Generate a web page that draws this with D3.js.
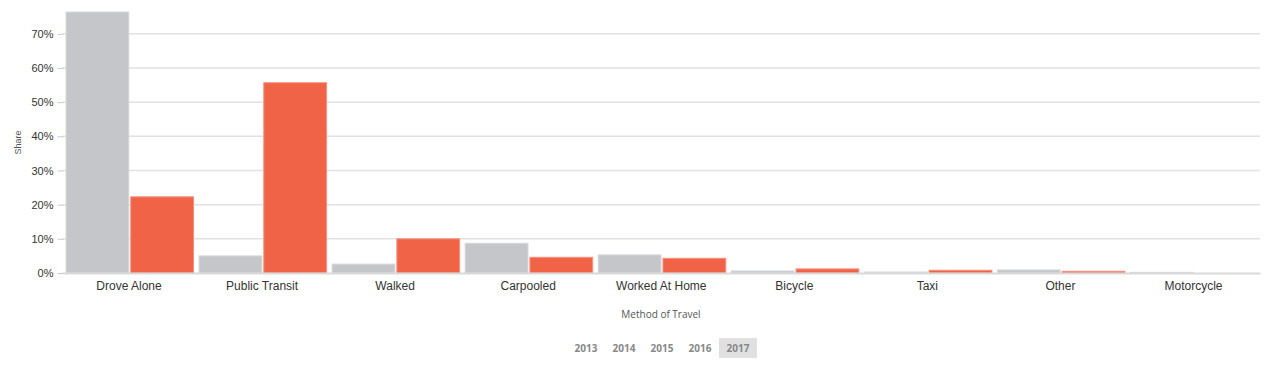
<!DOCTYPE html>
<html>
<head>
<meta charset="utf-8">
<script src="https://cdn.jsdelivr.net/npm/d3@7"></script>
<style>
body { margin: 0; background: #fff; }
.tick text { font-family: "Liberation Sans", Arial, sans-serif; font-size: 11px; fill: #333; }
.x-axis .tick text { font-size: 12px; }
</style>
</head>
<body>
<script>
// data (share of workers, 2017)
var methods = ["Drove Alone", "Public Transit", "Walked", "Carpooled", "Worked At Home", "Bicycle", "Taxi", "Other", "Motorcycle"];
var greyShare = [0.764, 0.050, 0.026, 0.087, 0.053, 0.006, 0.003, 0.009, 0.002];
var orangeShare = [0.223, 0.557, 0.100, 0.046, 0.043, 0.012, 0.008, 0.005, 0];
var years = ["2013", "2014", "2015", "2016", "2017"];
var activeYear = "2017";
var yTicks = [0, 0.1, 0.2, 0.3, 0.4, 0.5, 0.6, 0.7];

var width = 1266, height = 366;
var margin = {top: 12, right: 6, bottom: 93, left: 62.5};

var svg = d3.select("body").append("svg")
  .attr("width", width)
  .attr("height", height);

var x = d3.scaleBand()
  .domain(methods)
  .range([margin.left, width - margin.right])
  .paddingInner(0)
  .paddingOuter(0);

var sub = d3.scaleBand()
  .domain(["grey", "orange"])
  .range([3.5, x.bandwidth() - 2])
  .paddingInner(0.03);

var y = d3.scaleLinear()
  .domain([0, d3.max(greyShare.concat(orangeShare))])
  .range([height - margin.bottom, margin.top]);

// gridlines
svg.append("g")
  .selectAll("line")
  .data(yTicks.slice(1))
  .enter().append("line")
  .attr("x1", margin.left)
  .attr("x2", width - margin.right)
  .attr("y1", function(d) { return y(d); })
  .attr("y2", function(d) { return y(d); })
  .attr("stroke", "#e2e2e2")
  .attr("stroke-width", 1.5);

var yAxis = d3.axisLeft(y)
  .tickValues(yTicks)
  .tickFormat(d3.format(".0%"))
  .tickSize(6)
  .tickPadding(4);

var yg = svg.append("g")
  .attr("transform", "translate(" + (margin.left + 1) + ",0)")
  .call(yAxis);
yg.select(".domain").remove();
yg.selectAll(".tick line").attr("stroke", "#ccc");

var rows = methods.map(function(m, i) {
  return {method: m, grey: greyShare[i], orange: orangeShare[i]};
});

var groups = svg.selectAll(".grp")
  .data(rows)
  .enter().append("g")
  .attr("class", "grp")
  .attr("transform", function(d) { return "translate(" + x(d.method) + ",0)"; });

groups.append("rect")
  .attr("x", sub("grey"))
  .attr("width", sub.bandwidth())
  .attr("y", function(d) { return y(d.grey); })
  .attr("height", function(d) { return y(0) - y(d.grey); })
  .attr("fill", "#c5c6ca")
  .attr("stroke", "#d6d7da")
  .attr("stroke-width", 1);

groups.filter(function(d) { return d.orange > 0; })
  .append("rect")
  .attr("x", sub("orange"))
  .attr("width", sub.bandwidth())
  .attr("y", function(d) { return y(d.orange); })
  .attr("height", function(d) { return y(0) - y(d.orange); })
  .attr("fill", "#f06347")
  .attr("stroke", "#f4917e")
  .attr("stroke-width", 1);

// x axis
var xAxis = d3.axisBottom(x).tickSize(0).tickPadding(8);
var xg = svg.append("g")
  .attr("class", "x-axis")
  .attr("transform", "translate(0," + y(0) + ")")
  .call(xAxis);
xg.select(".domain").attr("stroke", "#d9d9d9").attr("stroke-width", 2);

// axis titles
svg.append("text")
  .attr("transform", "translate(21," + (margin.top + (y(0) - margin.top) / 2) + ") rotate(-90)")
  .attr("text-anchor", "middle")
  .style("font-family", "'Liberation Sans', Arial, sans-serif")
  .style("font-size", "9px")
  .style("fill", "#555")
  .text("Share");

svg.append("text")
  .attr("x", 661)
  .attr("y", 318)
  .attr("text-anchor", "middle")
  .style("font-family", "'Open Sans', sans-serif")
  .style("font-size", "10px")
  .style("fill", "#555")
  .text("Method of Travel");

// year selector
var yearX = d3.scaleBand()
  .domain(years)
  .range([567, 757]);

var yr = svg.selectAll(".yr")
  .data(years)
  .enter().append("g")
  .attr("class", "yr")
  .attr("transform", function(d) { return "translate(" + yearX(d) + ",338)"; });

yr.append("rect")
  .attr("width", yearX.bandwidth())
  .attr("height", 20)
  .attr("fill", function(d) { return d == activeYear ? "#e0e0e0" : "none"; });

yr.append("text")
  .attr("x", yearX.bandwidth() / 2)
  .attr("y", 14)
  .attr("text-anchor", "middle")
  .style("font-family", "'Open Sans', sans-serif")
  .style("font-size", "10px")
  .style("font-weight", "bold")
  .style("fill", "#888")
  .text(function(d) { return d; });
</script>
</body>
</html>
